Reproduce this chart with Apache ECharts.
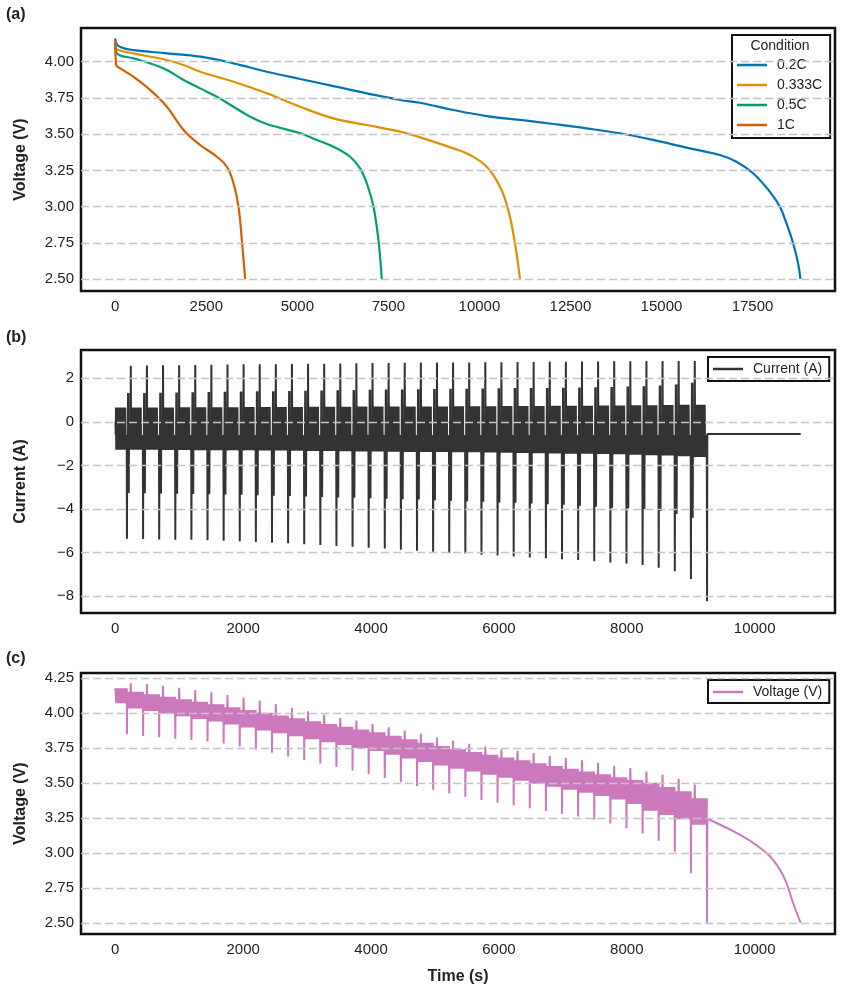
<!DOCTYPE html>
<html>
<head>
<meta charset="utf-8">
<script src="https://cdn.jsdelivr.net/npm/echarts@6/dist/echarts.min.js"></script>
<style>
  html, body { margin: 0; padding: 0; background: #fff; }
  #chart { width: 843px; height: 986px; }
</style>
</head>
<body>
<div id="chart"></div>
<script>
  // ---- (a) constant-current discharge curves ----
  const t02C = [0, 20, 150, 503, 1418, 2333, 3247, 4162, 5077, 5992, 6907, 7821, 8370, 9284, 10200, 11114, 12028, 12944, 13858, 14773, 15688, 16603, 17060, 17517, 17974, 18249, 18432, 18615, 18752, 18816];
  const v02C = [4.16, 4.13, 4.10, 4.08, 4.058, 4.035, 3.989, 3.931, 3.881, 3.832, 3.782, 3.736, 3.717, 3.667, 3.625, 3.598, 3.57, 3.54, 3.506, 3.46, 3.407, 3.356, 3.31, 3.23, 3.103, 3.0, 2.885, 2.747, 2.609, 2.5];
  const t0333C = [0, 30, 503, 1418, 1875, 2333, 3247, 4162, 5077, 5992, 6907, 7821, 8370, 9284, 9742, 10200, 10566, 10793, 10977, 11114];
  const v0333C = [4.13, 4.09, 4.058, 4.012, 3.977, 3.931, 3.862, 3.782, 3.689, 3.609, 3.563, 3.517, 3.478, 3.402, 3.356, 3.275, 3.137, 2.977, 2.747, 2.5];
  const t05C = [0, 47, 503, 960, 1418, 1875, 2333, 2790, 3247, 3705, 4162, 5077, 5535, 5992, 6449, 6723, 6907, 7090, 7227, 7319];
  const v05C = [4.13, 4.058, 4.023, 3.989, 3.943, 3.874, 3.816, 3.758, 3.689, 3.62, 3.57, 3.506, 3.46, 3.413, 3.344, 3.264, 3.161, 3.0, 2.77, 2.5];
  const t1C = [0, 20, 137, 503, 960, 1418, 1875, 2333, 2790, 3065, 3247, 3384, 3476, 3567];
  const v1C = [4.15, 3.98, 3.954, 3.896, 3.805, 3.689, 3.529, 3.425, 3.344, 3.275, 3.161, 3.0, 2.77, 2.5];

  // ---- (b)/(c) pulse test ----
  const pulseTimes = [183, 435, 687, 939, 1191, 1443, 1695, 1947, 2199, 2451, 2703, 2955, 3207, 3459, 3711, 3963, 4215, 4467, 4719, 4971, 5223, 5475, 5727, 5979, 6231, 6483, 6735, 6987, 7239, 7491, 7743, 7995, 8247, 8499, 8751, 9003, 9255];
  const pulseNegCurrent = [-5.37, -5.38, -5.40, -5.41, -5.42, -5.44, -5.46, -5.48, -5.52, -5.55, -5.58, -5.62, -5.66, -5.70, -5.74, -5.78, -5.82, -5.87, -5.92, -5.97, -6.01, -6.05, -6.10, -6.14, -6.18, -6.23, -6.27, -6.31, -6.35, -6.40, -6.46, -6.51, -6.58, -6.70, -6.86, -7.22, -8.24];
  const pulsePosCurrent = [2.58, 2.59, 2.60, 2.60, 2.61, 2.62, 2.63, 2.64, 2.64, 2.65, 2.66, 2.67, 2.67, 2.68, 2.69, 2.70, 2.70, 2.71, 2.72, 2.72, 2.73, 2.73, 2.74, 2.74, 2.75, 2.75, 2.76, 2.76, 2.77, 2.77, 2.78, 2.78, 2.79, 2.79, 2.80, 2.80];
  const stepHighCurrent = [1.32, 1.33, 1.34, 1.35, 1.36, 1.37, 1.38, 1.39, 1.40, 1.41, 1.42, 1.43, 1.44, 1.45, 1.46, 1.47, 1.48, 1.49, 1.50, 1.51, 1.52, 1.52, 1.53, 1.54, 1.55, 1.55, 1.56, 1.57, 1.58, 1.59, 1.60, 1.62, 1.64, 1.67, 1.71, 1.79];
  const stepLowCurrent = [-3.27, -3.28, -3.29, -3.30, -3.31, -3.32, -3.34, -3.35, -3.37, -3.39, -3.41, -3.43, -3.45, -3.47, -3.49, -3.51, -3.53, -3.55, -3.57, -3.60, -3.62, -3.65, -3.67, -3.70, -3.72, -3.75, -3.78, -3.81, -3.85, -3.90, -3.95, -3.97, -4.00, -4.10, -4.23, -4.41];
  // block levels: index 0 = before first pulse, then one per pulse
  const blockHighCurrent = [0.66, 0.66, 0.66, 0.66, 0.67, 0.67, 0.67, 0.67, 0.68, 0.68, 0.68, 0.68, 0.69, 0.69, 0.69, 0.70, 0.70, 0.70, 0.71, 0.71, 0.71, 0.72, 0.72, 0.72, 0.73, 0.73, 0.73, 0.74, 0.74, 0.74, 0.75, 0.75, 0.76, 0.76, 0.77, 0.78, 0.79];
  const blockLowCurrent = [-1.28, -1.28, -1.28, -1.29, -1.29, -1.30, -1.30, -1.31, -1.31, -1.32, -1.32, -1.33, -1.34, -1.34, -1.35, -1.36, -1.36, -1.37, -1.38, -1.38, -1.39, -1.40, -1.40, -1.41, -1.42, -1.43, -1.44, -1.45, -1.46, -1.47, -1.48, -1.49, -1.51, -1.53, -1.55, -1.58, -1.62];
  const restCurrent = -0.6;
  const pulseDownVoltage = [3.847, 3.835, 3.825, 3.815, 3.805, 3.795, 3.780, 3.760, 3.738, 3.714, 3.688, 3.662, 3.637, 3.612, 3.588, 3.562, 3.535, 3.505, 3.477, 3.451, 3.424, 3.400, 3.377, 3.357, 3.338, 3.318, 3.298, 3.279, 3.260, 3.236, 3.209, 3.176, 3.138, 3.086, 3.008, 2.853, 2.500];
  const pulseUpVoltage = [4.210, 4.205, 4.193, 4.179, 4.162, 4.146, 4.127, 4.108, 4.087, 4.062, 4.035, 4.010, 3.986, 3.965, 3.944, 3.920, 3.897, 3.873, 3.850, 3.823, 3.802, 3.778, 3.759, 3.740, 3.728, 3.712, 3.693, 3.676, 3.660, 3.641, 3.622, 3.605, 3.580, 3.558, 3.527, 3.487];
  const blockTopVoltage = [4.175, 4.150, 4.132, 4.114, 4.096, 4.078, 4.060, 4.040, 4.020, 4.000, 3.980, 3.960, 3.940, 3.920, 3.900, 3.880, 3.860, 3.835, 3.810, 3.785, 3.762, 3.740, 3.720, 3.700, 3.680, 3.660, 3.640, 3.620, 3.600, 3.580, 3.560, 3.540, 3.520, 3.500, 3.470, 3.440, 3.390];
  const blockBotVoltage = [4.068, 4.030, 4.012, 3.994, 3.975, 3.956, 3.937, 3.916, 3.895, 3.874, 3.853, 3.832, 3.811, 3.790, 3.769, 3.748, 3.727, 3.700, 3.674, 3.648, 3.624, 3.601, 3.580, 3.558, 3.536, 3.515, 3.494, 3.472, 3.450, 3.428, 3.405, 3.380, 3.348, 3.300, 3.270, 3.240, 3.200];
  const tailTime = [9259, 9453, 9714, 9973, 10234, 10391, 10495, 10598, 10719];
  const tailVoltage = [3.243, 3.202, 3.143, 3.072, 2.977, 2.882, 2.787, 2.645, 2.50];
  const tailCurrent = -0.56;

  // shape of one pulse cycle, one code every 4 s
  // N neg pulse, P pos pulse, H/L step, u/d block high/low, m rest, z zero
  const shapeStep = 4;
  const preShape = ["zm", "ud".repeat(19), "mdmdm"].join("");
  const cycleShape = ["NmdmHLHLm", "dmdmdm", "Pm", "dmd", "ud".repeat(18), "mdmdmdm"].join("");

  // tick labels
  const ticksAx = [0, 2500, 5000, 7500, 10000, 12500, 15000, 17500];
  const ticksAy = [2.50, 2.75, 3.00, 3.25, 3.50, 3.75, 4.00];
  const ticksTime = [0, 2000, 4000, 6000, 8000, 10000];
  const ticksBy = [-8, -6, -4, -2, 0, 2];
  const ticksCy = [2.50, 2.75, 3.00, 3.25, 3.50, 3.75, 4.00, 4.25];

  function currentLevel(c, k, b) {
    if (c === "z") return 0;
    if (c === "m") return restCurrent;
    if (c === "N") return pulseNegCurrent[k];
    if (c === "P") return pulsePosCurrent[k];
    if (c === "H") return stepHighCurrent[k];
    if (c === "L") return stepLowCurrent[k];
    if (c === "u") return blockHighCurrent[b];
    return blockLowCurrent[b];
  }
  function voltageLevel(c, k, b) {
    if (c === "N") return pulseDownVoltage[k];
    if (c === "P") return pulseUpVoltage[k];
    if (c === "d" || c === "L") return blockBotVoltage[b];
    return blockTopVoltage[b];
  }

  const currentData = [];
  const voltageData = [];
  const preStart = pulseTimes[0] - preShape.length * shapeStep;
  for (let i = 0; i < preShape.length; i++) {
    const t = preStart + i * shapeStep;
    currentData.push([t, currentLevel(preShape[i], 0, 0)]);
    voltageData.push([t, voltageLevel(preShape[i], 0, 0)]);
  }
  for (let k = 0; k < pulsePosCurrent.length; k++) {
    for (let i = 0; i < cycleShape.length; i++) {
      const t = pulseTimes[k] + i * shapeStep;
      currentData.push([t, currentLevel(cycleShape[i], k, k + 1)]);
      voltageData.push([t, voltageLevel(cycleShape[i], k, k + 1)]);
    }
  }
  const last = pulseTimes.length - 1;
  currentData.push([pulseTimes[last], pulseNegCurrent[last]]);
  currentData.push([tailTime[0], tailCurrent]);
  currentData.push([tailTime[tailTime.length - 1], tailCurrent]);
  voltageData.push([pulseTimes[last], pulseDownVoltage[last]]);
  voltageData.push([tailTime[0], tailVoltage[0]]);

  const pair = (ts, vs) => ts.map((t, i) => [t, vs[i]]);

  const FONT = "Liberation Sans";
  const gridLine = { type: [8, 4], color: "#c4c4c4", width: 1.4 };
  // matplotlib style minus sign, no thousands separator
  const fmtNum = (v, digits) => (v < 0 ? "\u2212" : "") + Math.abs(v).toFixed(digits);

  function gridLines(idx, ticks) {
    return {
      type: "line", xAxisIndex: idx, yAxisIndex: idx, data: [], silent: true, z: 1,
      markLine: {
        silent: true, symbol: "none", animation: false,
        label: { show: false },
        lineStyle: gridLine,
        data: ticks.map(v => ({ yAxis: v }))
      }
    };
  }

  function xAxis(idx, min, max, ticks, extra) {
    return Object.assign({
      type: "value", gridIndex: idx, min: min, max: max,
      axisLine: { show: false }, axisTick: { show: false }, splitLine: { show: false },
      axisLabel: {
        customValues: ticks, margin: 8, fontSize: 15, color: "#222", fontFamily: FONT,
        formatter: v => fmtNum(v, 0)
      }
    }, extra || {});
  }
  function yAxis(idx, min, max, ticks, name, digits) {
    return {
      type: "value", gridIndex: idx, min: min, max: max,
      name: name, nameLocation: "middle", nameGap: 52, nameRotate: 90,
      nameTextStyle: { fontSize: 16, fontWeight: "bold", color: "#222", fontFamily: FONT },
      axisLine: { show: false }, axisTick: { show: false }, splitLine: { show: false },
      axisLabel: {
        customValues: ticks, margin: 7, fontSize: 15, color: "#222", fontFamily: FONT,
        formatter: v => fmtNum(v, digits)
      }
    };
  }

  const gridBox = { show: true, borderColor: "#111", borderWidth: 2.5, backgroundColor: "transparent" };
  const legendBase = {
    orient: "vertical", borderColor: "#111", borderWidth: 2, borderRadius: 0,
    backgroundColor: "#fff", itemWidth: 30, itemHeight: 2.5, itemGap: 0, icon: "rect",
    textStyle: { fontSize: 14, lineHeight: 20, color: "#222", fontFamily: FONT, padding: [0, 0, 0, 5] }
  };

  const chart = echarts.init(document.getElementById("chart"), null, { renderer: "canvas" });
  chart.setOption({
    animation: false,
    textStyle: { fontFamily: FONT },
    grid: [
      Object.assign({ left: 81, top: 28, width: 754, height: 263 }, gridBox),
      Object.assign({ left: 81, top: 350, width: 754, height: 263 }, gridBox),
      Object.assign({ left: 81, top: 673, width: 754, height: 262 }, gridBox)
    ],
    xAxis: [
      xAxis(0, -941, 19766, ticksAx),
      xAxis(1, -536, 11256, ticksTime),
      xAxis(2, -536, 11256, ticksTime, {
        name: "Time (s)", nameLocation: "middle", nameGap: 35,
        nameTextStyle: { fontSize: 16, fontWeight: "bold", color: "#222", fontFamily: FONT }
      })
    ],
    yAxis: [
      yAxis(0, 2.417, 4.233, ticksAy, "Voltage (V)", 2),
      yAxis(1, -8.78, 3.30, ticksBy, "Current (A)", 0),
      yAxis(2, 2.42, 4.284, ticksCy, "Voltage (V)", 2)
    ],
    legend: [
      Object.assign({}, legendBase, {
        left: 732, top: 35, padding: [20, 8, 3, 5],
        data: ["0.2C", "0.333C", "0.5C", "1C"]
      }),
      Object.assign({}, legendBase, {
        left: 708, top: 357, padding: [2, 7, 2, 5],
        data: ["Current (A)"]
      }),
      Object.assign({}, legendBase, {
        left: 708, top: 680, padding: [2, 7, 1, 5],
        data: ["Voltage (V)"]
      })
    ],
    graphic: [
      { type: "text", left: 6, top: 7, style: { text: "(a)", fontSize: 16, fontWeight: "bold", fill: "#222", fontFamily: FONT } },
      { type: "text", left: 6, top: 330, style: { text: "(b)", fontSize: 16, fontWeight: "bold", fill: "#222", fontFamily: FONT } },
      { type: "text", left: 6, top: 651, style: { text: "(c)", fontSize: 16, fontWeight: "bold", fill: "#222", fontFamily: FONT } },
      { type: "text", x: 780, y: 46, z: 100, style: { text: "Condition", fontSize: 14, fill: "#222", fontFamily: FONT, align: "center", verticalAlign: "middle" } }
    ],
    series: [
      gridLines(0, ticksAy),
      gridLines(1, ticksBy),
      gridLines(2, ticksCy),
      { name: "0.2C", type: "line", xAxisIndex: 0, yAxisIndex: 0, data: pair(t02C, v02C), smooth: 0.4, showSymbol: false, symbol: "none", z: 3, lineStyle: { width: 2.2, color: "#0173b2" }, itemStyle: { color: "#0173b2" } },
      { name: "0.333C", type: "line", xAxisIndex: 0, yAxisIndex: 0, data: pair(t0333C, v0333C), smooth: 0.4, showSymbol: false, symbol: "none", z: 3, lineStyle: { width: 2.2, color: "#de8f05" }, itemStyle: { color: "#de8f05" } },
      { name: "0.5C", type: "line", xAxisIndex: 0, yAxisIndex: 0, data: pair(t05C, v05C), smooth: 0.4, showSymbol: false, symbol: "none", z: 3, lineStyle: { width: 2.2, color: "#029e73" }, itemStyle: { color: "#029e73" } },
      { name: "1C", type: "line", xAxisIndex: 0, yAxisIndex: 0, data: pair(t1C, v1C), smooth: 0.4, showSymbol: false, symbol: "none", z: 3, lineStyle: { width: 2.2, color: "#d55e00" }, itemStyle: { color: "#d55e00" } },
      { name: "Current (A)", type: "line", xAxisIndex: 1, yAxisIndex: 1, data: currentData, showSymbol: false, symbol: "none", sampling: null, z: 3, lineStyle: { width: 2, color: "#333333" }, itemStyle: { color: "#333333" } },
      { name: "Voltage (V)", type: "line", xAxisIndex: 2, yAxisIndex: 2, data: voltageData, showSymbol: false, symbol: "none", z: 3, lineStyle: { width: 2, color: "#cc78bc" }, itemStyle: { color: "#cc78bc" } },
      { name: "Voltage (V)", type: "line", xAxisIndex: 2, yAxisIndex: 2, data: pair(tailTime, tailVoltage), smooth: 0.4, showSymbol: false, symbol: "none", z: 3, lineStyle: { width: 2, color: "#cc78bc" }, itemStyle: { color: "#cc78bc" } }
    ]
  });
  window.addEventListener("resize", () => chart.resize());
</script>
</body>
</html>
